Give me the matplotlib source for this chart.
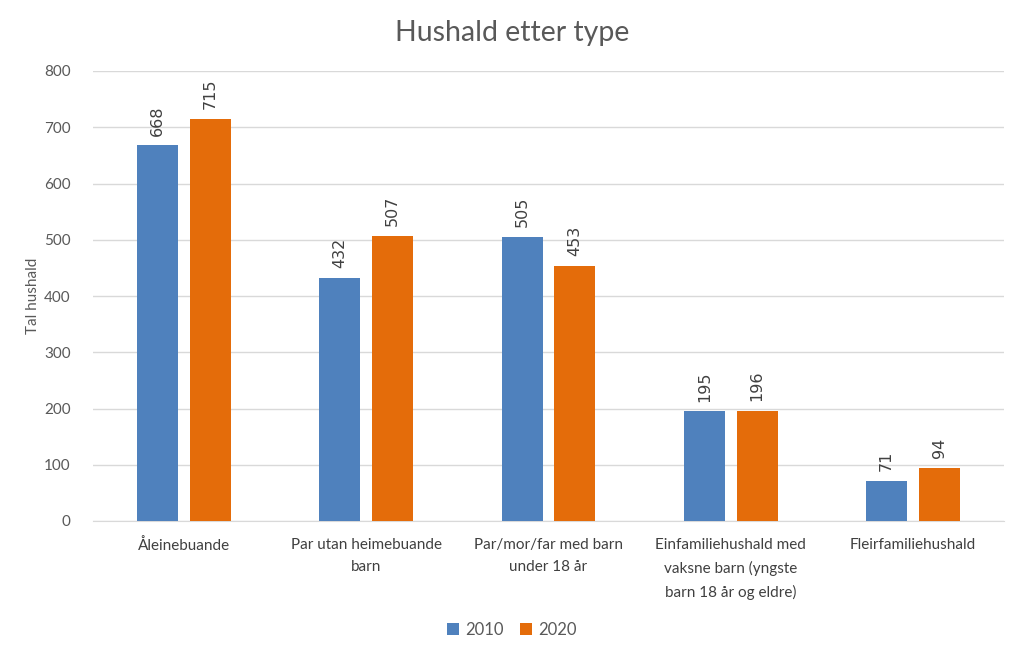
import numpy as np
import matplotlib.pyplot as plt

# ----------------------------
# Data
# ----------------------------
categories = [
    "Åleinebuande",
    "Par utan heimebuande\nbarn",
    "Par/mor/far med barn\nunder 18 år",
    "Einfamiliehushald med\nvaksne barn (yngste\nbarn 18 år og eldre)",
    "Fleirfamiliehushald",
]
series_names = ["2010", "2020"]
values_2010 = [668, 432, 505, 195, 71]
values_2020 = [715, 507, 453, 196, 94]
yticks = [0, 100, 200, 300, 400, 500, 600, 700, 800]

BLUE = "#4F81BD"
ORANGE = "#E46C0A"
TEXT = "#595959"
GRID = "#D9D9D9"

plt.rcParams["font.family"] = ["Lato", "DejaVu Sans"]


def main() -> None:
    fig = plt.figure(figsize=(10.24, 6.57), dpi=100)
    ax = fig.add_axes([93 / 1024, 1 - 521 / 657, 911 / 1024, 450 / 657])

    x = np.arange(len(categories))
    w = 0.225
    off = 0.145
    b1 = ax.bar(x - off, values_2010, w, color=BLUE, label=series_names[0], zorder=3)
    b2 = ax.bar(x + off, values_2020, w, color=ORANGE, label=series_names[1], zorder=3)

    # etiquetas de valor rotadas
    for bars in (b1, b2):
        for rect in bars:
            h = rect.get_height()
            ax.annotate(f"{h:.0f}", (rect.get_x() + rect.get_width() / 2, h),
                        xytext=(0, 7), textcoords="offset points",
                        rotation=90, ha="center", va="bottom",
                        fontsize=11.5, color="#404040", family="DejaVu Sans")

    ax.set_xlim(-0.5, len(categories) - 0.5)
    ax.set_ylim(0, 800)
    ax.set_yticks(yticks)
    ax.set_yticklabels([str(v) for v in yticks], fontsize=11, color=TEXT)
    ax.set_xticks(x)
    ax.set_xticklabels(categories, fontsize=11, color="#404040", linespacing=1.75)
    ax.tick_params(axis="both", length=0)
    ax.tick_params(axis="y", pad=16)
    ax.tick_params(axis="x", pad=12)

    ax.grid(axis="y", color=GRID, linewidth=1, zorder=0)
    for s in ["top", "right", "left"]:
        ax.spines[s].set_visible(False)
    ax.spines["bottom"].set_color(GRID)
    ax.spines["bottom"].set_zorder(1)

    ax.set_ylabel("Tal hushald", fontsize=11, color=TEXT, labelpad=3)
    fig.suptitle("Hushald etter type", x=512 / 1024, y=1 - 33 / 657, va="center",
                 fontsize=20.5, color=TEXT)

    fig.legend(loc="center", bbox_to_anchor=(512 / 1024, 1 - 630 / 657), ncol=2,
               frameon=False, fontsize=12, handlelength=0.7, handleheight=0.7,
               handletextpad=0.4, columnspacing=1.0, labelcolor=TEXT)

    fig.savefig("out.png", dpi=100)


if __name__ == "__main__":
    main()
